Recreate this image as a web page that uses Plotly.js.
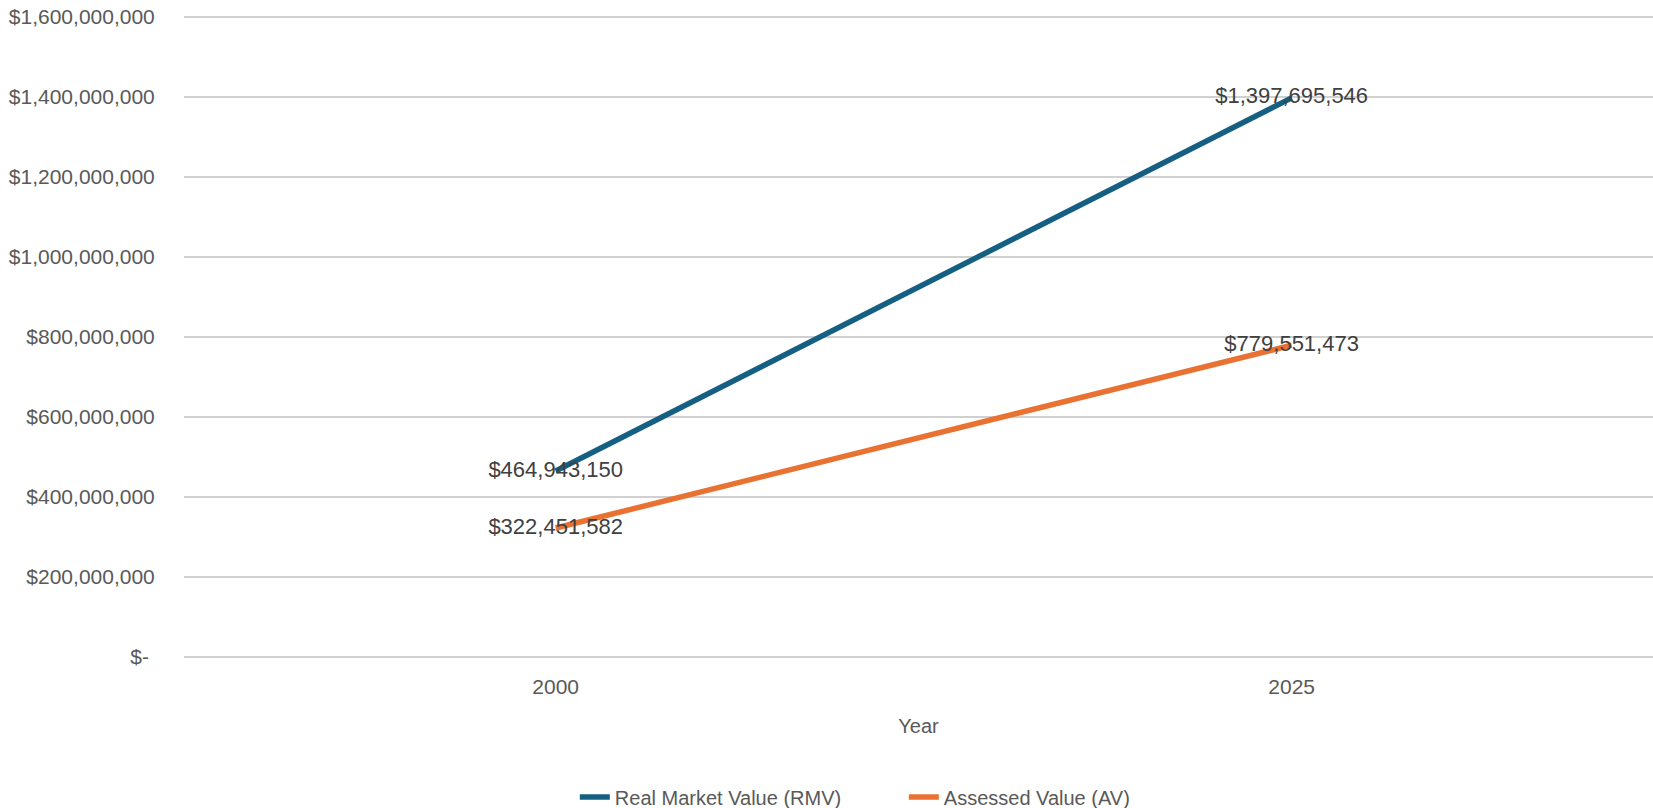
<!DOCTYPE html>
<html>
<head>
<meta charset="utf-8">
<script src="https://cdn.plot.ly/plotly-3.0.1.min.js"></script>
<style>
html,body{margin:0;padding:0;background:#fff;}
#chart{width:1653px;height:808px;}
</style>
</head>
<body>
<div id="chart"></div>
<script>
const years = ["2000", "2025"];
const rmvValues = [464943150, 1397695546];
const avValues = [322451582, 779551473];
const seriesNames = ["Real Market Value (RMV)", "Assessed Value (AV)"];
const yTickVals = [0, 200000000, 400000000, 600000000, 800000000, 1000000000, 1200000000, 1400000000, 1600000000];
const yTickText = ["$-\u00a0", "$200,000,000", "$400,000,000", "$600,000,000", "$800,000,000", "$1,000,000,000", "$1,200,000,000", "$1,400,000,000", "$1,600,000,000"];

function money(v) { return "$" + v.toLocaleString("en-US"); }

const labelFont = {family: "Liberation Sans, Arial, sans-serif", size: 22, color: "#404040"};

const traces = [
  {
    x: years, y: rmvValues, name: seriesNames[0], type: "scatter", mode: "lines+text",
    line: {color: "#156082", width: 5.5},
    text: rmvValues.map(money), textposition: "middle center", textfont: labelFont,
    hoverinfo: "x+y"
  },
  {
    x: years, y: avValues, name: seriesNames[1], type: "scatter", mode: "lines+text",
    line: {color: "#E97132", width: 5.5},
    text: avValues.map(money), textposition: "middle center", textfont: labelFont,
    hoverinfo: "x+y"
  }
];

const layout = {
  width: 1653, height: 808,
  margin: {l: 184, r: 0, t: 15, b: 149},
  paper_bgcolor: "#ffffff", plot_bgcolor: "#ffffff",
  font: {family: "Liberation Sans, Arial, sans-serif", color: "#595959", size: 21},
  showlegend: true,
  legend: {
    orientation: "h", xref: "paper", x: 0.49, xanchor: "center",
    yref: "container", y: 0.0136, yanchor: "middle",
    font: {size: 20, color: "#595959"}, traceorder: "normal",
    entrywidth: 284, entrywidthmode: "pixels"
  },
  xaxis: {
    type: "category", range: [-0.505, 1.491],
    showgrid: false, zeroline: false, showline: false,
    ticks: "outside", ticklen: 9, tickcolor: "rgba(0,0,0,0)",
    tickfont: {size: 21, color: "#595959"},
    title: {text: "Year", font: {size: 20, color: "#595959"}, standoff: 21}
  },
  yaxis: {
    range: [-5000000, 1605000000], tickvals: yTickVals, ticktext: yTickText,
    showgrid: true, gridcolor: "#d0d0d0", gridwidth: 1.5,
    zeroline: false, showline: false,
    ticks: "outside", ticklen: 24, tickcolor: "rgba(0,0,0,0)",
    tickfont: {size: 21, color: "#595959"}
  }
};

Plotly.newPlot("chart", traces, layout, {displayModeBar: false, staticPlot: true});
</script>
</body>
</html>
